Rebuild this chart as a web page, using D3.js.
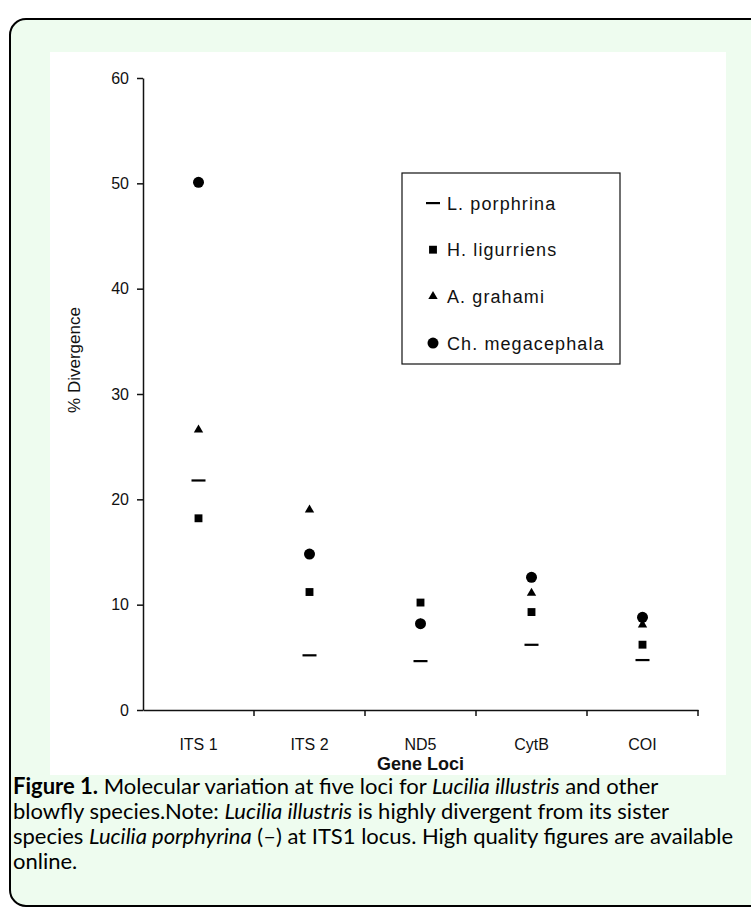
<!DOCTYPE html>
<html>
<head>
<meta charset="utf-8">
<script src="https://cdn.jsdelivr.net/npm/d3@7"></script>
<style>
  body { margin: 0; background: #fff; }
  svg { display: block; }
</style>
</head>
<body>
<div id="chart"></div>
<script>
// data
const loci = ["ITS 1", "ITS 2", "ND5", "CytB", "COI"];
const species = ["L. porphrina", "H. ligurriens", "A. grahami", "Ch. megacephala"];
const porphrina = [21.8, 5.2, 4.65, 6.2, 4.75];
const ligurriens = [18.2, 11.2, 10.2, 9.3, 6.2];
const grahami = [26.6, 19.0, 8.2, 11.1, 8.1];
const megacephala = [50.1, 14.8, 8.2, 12.6, 8.8];
const yTicks = [0, 10, 20, 30, 40, 50, 60];

const series = [
  { name: species[0], shape: "dash", values: porphrina },
  { name: species[1], shape: "square", values: ligurriens },
  { name: species[2], shape: "triangle", values: grahami },
  { name: species[3], shape: "circle", values: megacephala }
];

// =====================================
// SVG + frame
// =====================================
const W = 751, H = 918;
const svg = d3.select("#chart").append("svg")
  .attr("width", W)
  .attr("height", H);

svg.append("rect")
  .attr("x", 10).attr("y", 19)
  .attr("width", 760).attr("height", 887)
  .attr("rx", 16).attr("ry", 16)
  .attr("fill", "#eefcef")
  .attr("stroke", "#000")
  .attr("stroke-width", 2);

// white image area
svg.append("rect")
  .attr("x", 50).attr("y", 52)
  .attr("width", 676).attr("height", 723)
  .attr("fill", "#fff");

// =====================================
// SCALES
// =====================================
const x = d3.scaleBand()
  .domain(loci)
  .range([143, 698]);

const y = d3.scaleLinear()
  .domain([0, 60])
  .range([710, 78]);

const font = "'Liberation Sans', Arial, sans-serif";

// =====================================
// AXES
// =====================================
const yAxis = svg.append("g")
  .attr("transform", `translate(${x.range()[0]},0)`)
  .call(d3.axisLeft(y).tickValues(yTicks).tickSize(6).tickSizeOuter(0).tickPadding(8));

const xAxis = svg.append("g")
  .attr("transform", `translate(0,${y(0)})`)
  .call(d3.axisBottom(x).tickSize(0).tickSizeOuter(0).tickPadding(29));

[yAxis, xAxis].forEach(g => {
  g.attr("font-size", null).attr("font-family", null);
  g.select(".domain").attr("stroke", "#111").attr("stroke-width", 1.5);
  g.selectAll(".tick line").attr("stroke", "#111").attr("stroke-width", 1.5);
  g.selectAll("text")
    .attr("fill", "#111")
    .style("font-family", font)
    .style("font-size", "16px");
});

// x ticks between categories
xAxis.selectAll(".sep")
  .data(loci)
  .enter()
  .append("line")
  .attr("x1", d => x(d) + x.bandwidth())
  .attr("x2", d => x(d) + x.bandwidth())
  .attr("y1", 0)
  .attr("y2", 6)
  .attr("stroke", "#111")
  .attr("stroke-width", 1.5);

// axis titles
svg.append("text")
  .attr("x", x.range()[0] + (x.range()[1] - x.range()[0]) / 2)
  .attr("y", 770)
  .attr("text-anchor", "middle")
  .style("font-family", font)
  .style("font-size", "18px")
  .style("font-weight", "bold")
  .attr("fill", "#111")
  .text("Gene Loci");

svg.append("text")
  .attr("transform", "translate(80,360) rotate(-90)")
  .attr("text-anchor", "middle")
  .style("font-family", font)
  .style("font-size", "17px")
  .attr("fill", "#111")
  .text("% Divergence");

// =====================================
// MARKERS
// =====================================
function drawMarker(g, shape) {
  if (shape === "dash") {
    g.append("rect").attr("x", -7).attr("y", -1).attr("width", 14).attr("height", 2.2).attr("fill", "#000");
  } else if (shape === "square") {
    g.append("path").attr("d", d3.symbol(d3.symbolSquare, 62)()).attr("fill", "#000");
  } else if (shape === "triangle") {
    g.append("path").attr("d", d3.symbol(d3.symbolTriangle, 38)()).attr("fill", "#000");
  } else {
    g.append("path").attr("d", d3.symbol(d3.symbolCircle, 95)()).attr("fill", "#000");
  }
}

series.forEach(s => {
  svg.append("g").selectAll("g")
    .data(s.values)
    .enter()
    .append("g")
    .attr("transform", (d, i) => `translate(${x(loci[i]) + x.bandwidth() / 2},${y(d)})`)
    .each(function() { drawMarker(d3.select(this), s.shape); });
});

// =====================================
// LEGEND
// =====================================
const legend = svg.append("g");
legend.append("rect")
  .attr("x", 402).attr("y", 173)
  .attr("width", 218).attr("height", 191)
  .attr("fill", "#fff")
  .attr("stroke", "#111")
  .attr("stroke-width", 1.2);

const li = legend.selectAll(".item")
  .data(series)
  .enter()
  .append("g")
  .attr("transform", (d, i) => `translate(433,${203 + i * 46.7})`);

li.each(function(d) { drawMarker(d3.select(this), d.shape); });

li.append("text")
  .attr("x", 14)
  .attr("y", 6.5)
  .style("font-family", font)
  .style("font-size", "18px")
  .style("letter-spacing", "1.1px")
  .attr("fill", "#111")
  .text(d => d.name);

// =====================================
// CAPTION
// =====================================
const capFont = "Lato, 'Open Sans', sans-serif";
const caption = [
  [["Figure 1.", "b"], [" Molecular variation at five loci for ", ""], ["Lucilia illustris", "i"], [" and other", ""]],
  [["blowfly species.Note: ", ""], ["Lucilia illustris", "i"], [" is highly divergent from its sister", ""]],
  [["species ", ""], ["Lucilia porphyrina", "i"], [" (\u2013) at ITS1 locus. High quality figures are available", ""]],
  [["online.", ""]]
];

caption.forEach((line, i) => {
  const t = svg.append("text")
    .attr("x", 13)
    .attr("y", 794 + i * 25)
    .style("font-family", capFont)
    .style("font-size", "22px")
    .attr("fill", "#000");
  line.forEach(([str, st]) => {
    t.append("tspan")
      .style("font-weight", st === "b" ? "bold" : "normal")
      .style("font-style", st === "i" ? "italic" : "normal")
      .text(str);
  });
});
</script>
</body>
</html>
